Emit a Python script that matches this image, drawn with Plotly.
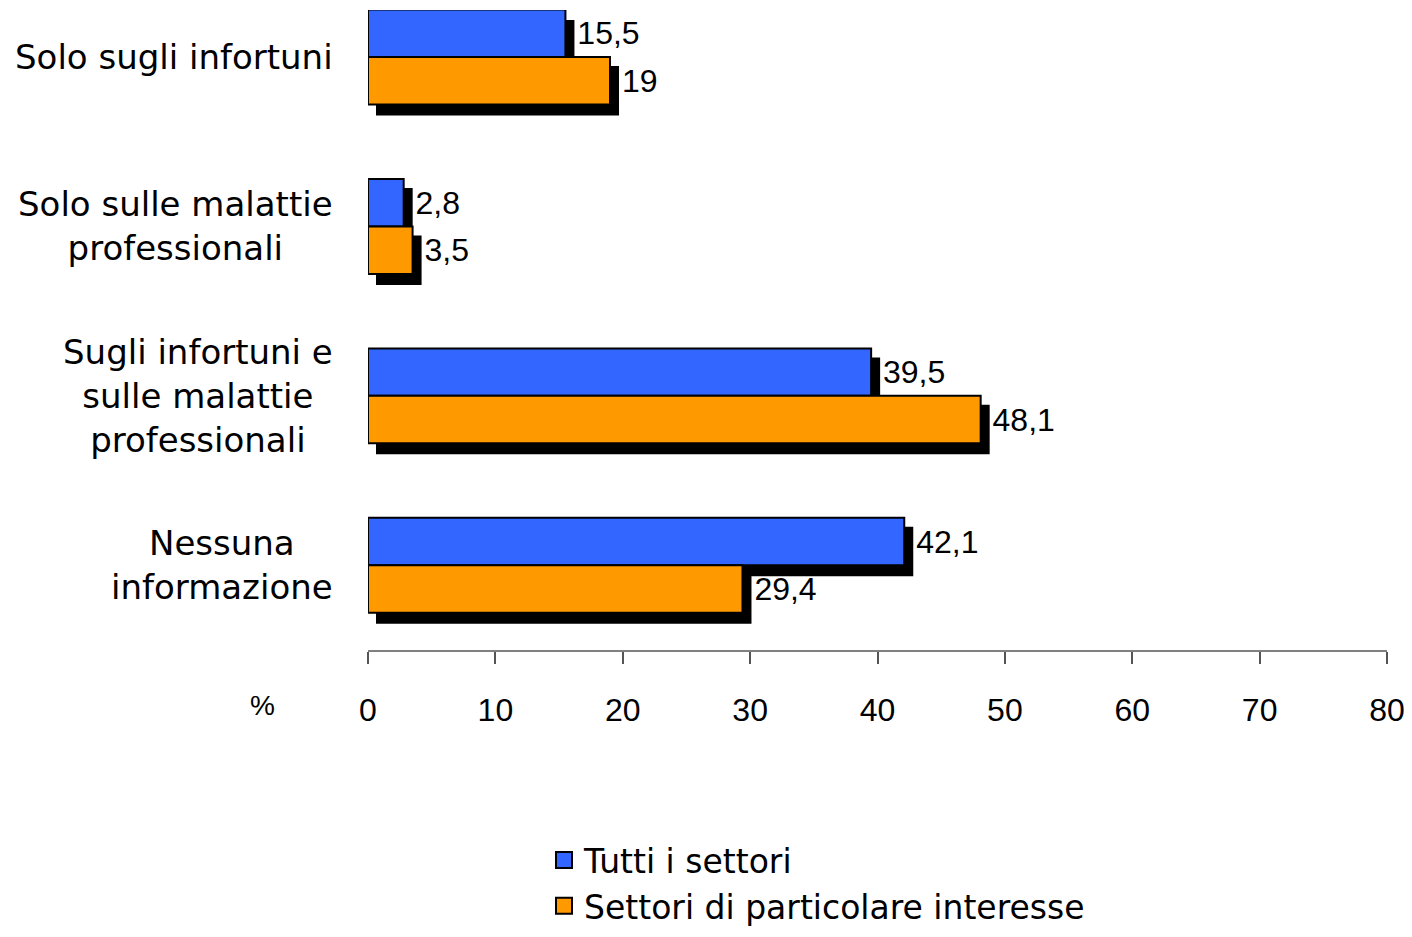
import plotly.graph_objects as go

# data
categories = ['Solo sugli infortuni',
              'Solo sulle malattie<br>professionali',
              'Sugli infortuni e<br>sulle malattie<br>professionali',
              'Nessuna<br>informazione']
tutti = [15.5, 2.8, 39.5, 42.1]
particolari = [19, 3.5, 48.1, 29.4]
series_names = ['Tutti i settori', 'Settori di particolare interesse']
colors = ['#3366FF', '#FF9900']
xticks = [0, 10, 20, 30, 40, 50, 60, 70, 80]

# the page body has an 8px margin, so the figure is sized to fit the window
OFF = 8
W, H = 1412 - 2 * OFF, 937 - 2 * OFF
# plot area in paper pixels
px_l, px_r = 368 - OFF, 1387 - OFF
px_t, px_b = 10 - OFF, 650 - OFF
dx, dy = 8, 10  # shadow offset

FONT = 'Liberation Sans'
LABFONT = 'DejaVu Sans'

def lab(v):
    s = ('%g' % v).replace('.', ',')
    return '\u00a0' + s

fig = go.Figure()

# shadows (drawn first, on a shifted subplot)
for vals in [tutti, particolari]:
    fig.add_trace(go.Bar(x=vals, y=categories, orientation='h',
                         marker=dict(color='black', line=dict(color='black', width=2)),
                         showlegend=False, hoverinfo='skip',
                         xaxis='x', yaxis='y'))

# real bars
for name, vals, c in zip(series_names, [tutti, particolari], colors):
    fig.add_trace(go.Bar(x=vals, y=categories, orientation='h', name=name,
                         marker=dict(color=c, line=dict(color='black', width=2)),
                         text=[lab(v) for v in vals], textposition='outside',
                         textfont=dict(size=32, color='black', family=FONT),
                         cliponaxis=False, showlegend=False,
                         xaxis='x2', yaxis='y2'))

# legend entries
for name, c in zip(series_names, colors):
    fig.add_trace(go.Scatter(x=[None], y=[None], mode='markers', name=name,
                             marker=dict(symbol='square', size=22, color=c,
                                         line=dict(color='black', width=2)),
                             xaxis='x2', yaxis='y2'))

top_val = -(57 - 10) / 169.3  # category value at top edge of plot area
ycat = dict(type='category', categoryorder='array', categoryarray=categories,
            range=[3.5, top_val],
            showticklabels=False, showgrid=False, zeroline=False, showline=False,
            ticks='')

fig.update_layout(
    width=W, height=H,
    margin=dict(l=0, r=0, t=0, b=0, autoexpand=False),
    paper_bgcolor='white', plot_bgcolor='rgba(0,0,0,0)',
    barmode='group', bargap=0.44, bargroupgap=0,
    font=dict(family=FONT, size=32, color='black'),
    xaxis=dict(domain=[(px_l + dx) / W, (px_r + dx) / W], range=[0, 80],
               visible=False, anchor='y'),
    yaxis=dict(ycat, domain=[1 - (px_b + dy) / H, 1 - (px_t + dy) / H], anchor='x'),
    xaxis2=dict(domain=[px_l / W, px_r / W], range=[0, 80], anchor='y2',
                tickvals=xticks, ticks='outside', ticklen=12, tickcolor='#555555',
                tickwidth=1.5, showline=True, linecolor='#808080', linewidth=2,
                showgrid=False, zeroline=False, ticklabelstandoff=19,
                ticklabeloverflow='allow',
                tickfont=dict(size=32, family=FONT), automargin=False),
    yaxis2=dict(ycat, domain=[1 - px_b / H, 1 - px_t / H], anchor='x2'),
    legend=dict(x=(544 - OFF) / W, y=1 - (832 - OFF) / H, xanchor='left', yanchor='top',
                font=dict(size=33, family=LABFONT), bgcolor='rgba(0,0,0,0)',
                tracegroupgap=0),
    showlegend=True,
)

# category labels, lines centred, block right aligned
for cat in categories:
    fig.add_annotation(x=(335 - OFF) / W, xref='paper', y=cat, yref='y2',
                       text=cat, showarrow=False, xanchor='right', align='center',
                       font=dict(size=34, family=LABFONT))

fig.add_annotation(x=(262 - OFF) / W, y=1 - (705 - OFF) / H, xref='paper', yref='paper',
                   xanchor='center', yanchor='middle',
                   text='%', showarrow=False, font=dict(size=28, family=FONT))

fig.write_html('out.html')
